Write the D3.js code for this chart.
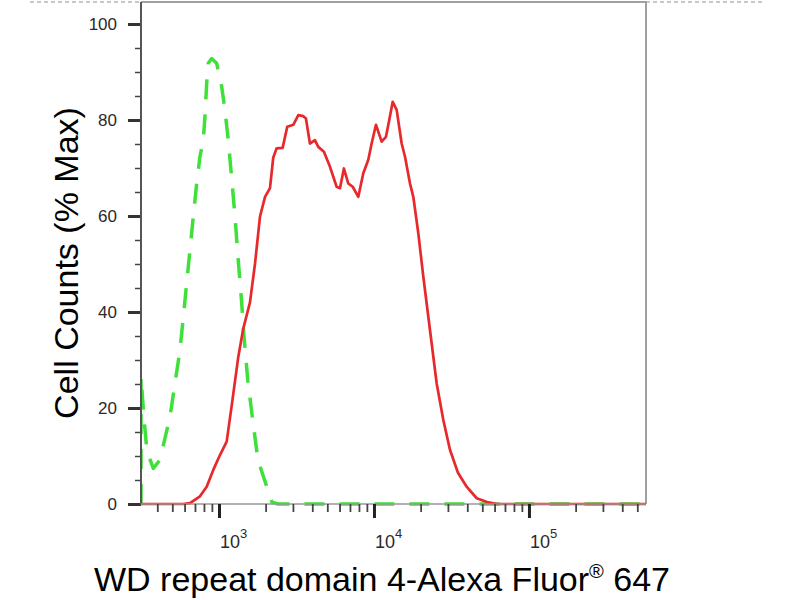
<!DOCTYPE html>
<html>
<head>
<meta charset="utf-8">
<script src="https://cdn.jsdelivr.net/npm/d3@7"></script>
<style>
  html, body { margin: 0; padding: 0; background: #fff; }
  svg { display: block; }
  text { font-family: "Liberation Sans", Arial, Helvetica, sans-serif; }
</style>
</head>
<body>
<svg id="chart" width="800" height="600"></svg>
<script>
// ---------- data ----------
const yTickValues = [0, 20, 40, 60, 80, 100];
const yMinorValues = [5, 10, 15, 25, 30, 35, 45, 50, 55, 65, 70, 75, 85, 90, 95];
const xMajorValues = [1e3, 1e4, 1e5];
const xMajorExponents = ["3", "4", "5"];
const xMinorValues = [400, 500, 600, 700, 800, 900,
  2000, 3000, 4000, 5000, 6000, 7000, 8000, 9000,
  20000, 30000, 40000, 50000, 60000, 70000, 80000, 90000,
  200000, 300000, 400000, 500000];
const xDomain = [314, 569000];
const yDomain = [0, 100];

const xTitle = "WD repeat domain 4-Alexa Fluor";
const xTitleSup = "®";
const xTitleEnd = " 647";
const yTitle = "Cell Counts (% Max)";

// stained sample (red, solid)
const redX = [314, 462, 586, 650, 754, 833, 919, 1015, 1121, 1208, 1333, 1436, 1585, 1707, 1840,
  1982, 2134, 2240, 2356, 2574, 2758, 3016, 3250, 3500, 3640, 3863, 4159, 4372, 4755, 5197,
  5742, 6035, 6397, 6823, 7290, 7925, 8534, 9190, 9660, 10300, 11210, 11950, 12550, 13210,
  14010, 15090, 15850, 17070, 17940, 19320, 20810, 22970, 25390, 28020, 30920, 34830, 39620,
  46000, 53600, 62200, 569000];
const redY = [0, 0, 0, 0.2, 1.6, 3.6, 7.1, 10.2, 13, 20.5, 30.7, 36.6, 42, 50, 59.9,
  64, 65.8, 72.2, 74.1, 74.2, 78.6, 79, 81, 80.8, 80.3, 75.1, 75.8, 74.4, 73.4, 70.3,
  66.1, 65.8, 69.9, 66.8, 66.1, 64, 68.9, 71.7, 75.1, 79, 75.5, 76.5, 80, 83.8,
  82.1, 75.1, 72.4, 66.8, 64, 56.4, 47.4, 36.3, 25.1, 17.5, 11.3, 6.5, 3.6,
  1.2, 0.4, 0, 0];

// control (green, dashed)
const greenX = [314, 314, 328, 343, 377, 416, 483, 520, 560, 589, 619, 650, 683, 718, 754, 792,
  812, 833, 853, 897, 966, 1041, 1093, 1148, 1207, 1268, 1326, 1393, 1450, 1534, 1665, 1785,
  1922, 2070, 2198, 2400, 569000];
const greenY = [0, 26.5, 18, 11, 7.4, 9.2, 18.2, 25.1, 32, 39, 46, 52.9, 59.9, 66.8, 72.4, 75.8,
  80.7, 87.6, 91.8, 92.8, 91.8, 87, 82, 75.8, 68, 60, 51.5, 43, 35, 25.8, 16.5, 9.2,
  6, 2.9, 0.4, 0, 0];

// ---------- layout ----------
const L = 141, R = 646, T = 2, B = 504;
const svg = d3.select("#chart");

const x = d3.scaleLog().domain(xDomain).range([L, R]);
const y = d3.scaleLinear().domain(yDomain).range([B, 24]);

// top dashed frame line
svg.append("line")
  .attr("x1", 30).attr("x2", 765).attr("y1", 2).attr("y2", 2)
  .attr("stroke", "#c8c8c8").attr("stroke-width", 2).attr("stroke-dasharray", "4,3");

// plot box (top + right borders)
svg.append("path")
  .attr("d", `M${L},${T}H${R}V${B}`)
  .attr("fill", "none").attr("stroke", "#a0a0a0").attr("stroke-width", 2);

// clip
svg.append("clipPath").attr("id", "clip")
  .append("rect").attr("x", L).attr("y", T).attr("width", R - L).attr("height", B - T + 2);

const g = svg.append("g").attr("clip-path", "url(#clip)");

const redData = redX.map((v, i) => [v, redY[i]]);
const greenData = greenX.map((v, i) => [v, greenY[i]]);
const line = d3.line().x(d => x(d[0])).y(d => y(d[1]));

g.append("path").datum(greenData)
  .attr("d", line)
  .attr("fill", "none").attr("stroke", "#3ee03a").attr("stroke-width", 3.5)
  .attr("stroke-dasharray", "20,15").attr("stroke-linejoin", "round");

g.append("path").datum(redData)
  .attr("d", line)
  .attr("fill", "none").attr("stroke", "#e8292c").attr("stroke-width", 2.7)
  .attr("stroke-linejoin", "round");

// ---------- y axis ----------
const yMinor = svg.append("g").attr("transform", `translate(${L},0)`)
  .call(d3.axisLeft(y).tickValues(yMinorValues).tickSize(6).tickFormat(""));
yMinor.select(".domain").remove();
yMinor.selectAll(".tick line").attr("stroke", "#444").attr("stroke-width", 1.5);

const yAxis = svg.append("g").attr("transform", `translate(${L},0)`)
  .call(d3.axisLeft(y).tickValues(yTickValues).tickSize(13).tickPadding(11));
yAxis.select(".domain").remove();
yAxis.selectAll(".tick line").attr("stroke", "#333").attr("stroke-width", 3);
yAxis.selectAll(".tick text")
  .attr("fill", "#2a2a2a").style("font-size", "17px")
  .style("font-family", "'Liberation Sans', Arial, sans-serif");

svg.append("line").attr("x1", L).attr("x2", L).attr("y1", T).attr("y2", B + 1)
  .attr("stroke", "#555").attr("stroke-width", 2);

// ---------- x axis ----------
svg.append("line").attr("x1", L).attr("x2", R).attr("y1", B).attr("y2", B)
  .attr("stroke", "#999").attr("stroke-width", 1.5);

const xMinor = svg.append("g").attr("transform", `translate(0,${B})`)
  .call(d3.axisBottom(x).tickValues(xMinorValues).tickSize(8).tickFormat(""));
xMinor.select(".domain").remove();
xMinor.selectAll(".tick line").attr("stroke", "#444").attr("stroke-width", 1.8);

const xMajor = svg.append("g").attr("transform", `translate(0,${B})`)
  .call(d3.axisBottom(x).tickValues(xMajorValues).tickSize(14).tickFormat(""));
xMajor.select(".domain").remove();
xMajor.selectAll(".tick line").attr("stroke", "#222").attr("stroke-width", 3);

const xl = svg.append("g").selectAll("text").data(xMajorValues).join("text")
  .attr("x", d => x(d) + 1).attr("y", 548)
  .attr("fill", "#2a2a2a").style("font-size", "18px");
xl.append("tspan").text("10");
xl.append("tspan").attr("dy", -10).style("font-size", "13px")
  .text((d, i) => xMajorExponents[i]);

// ---------- titles ----------
const xt = svg.append("text").attr("x", 382).attr("y", 591)
  .attr("text-anchor", "middle").attr("fill", "#000").style("font-size", "34px");
xt.append("tspan").text(xTitle);
xt.append("tspan").attr("dy", -13).style("font-size", "20px").text(xTitleSup);
xt.append("tspan").attr("dy", 13).text(xTitleEnd);

svg.append("text")
  .attr("transform", "translate(78,263) rotate(-90)")
  .attr("text-anchor", "middle").attr("fill", "#000").style("font-size", "34px")
  .text(yTitle);
</script>
</body>
</html>
